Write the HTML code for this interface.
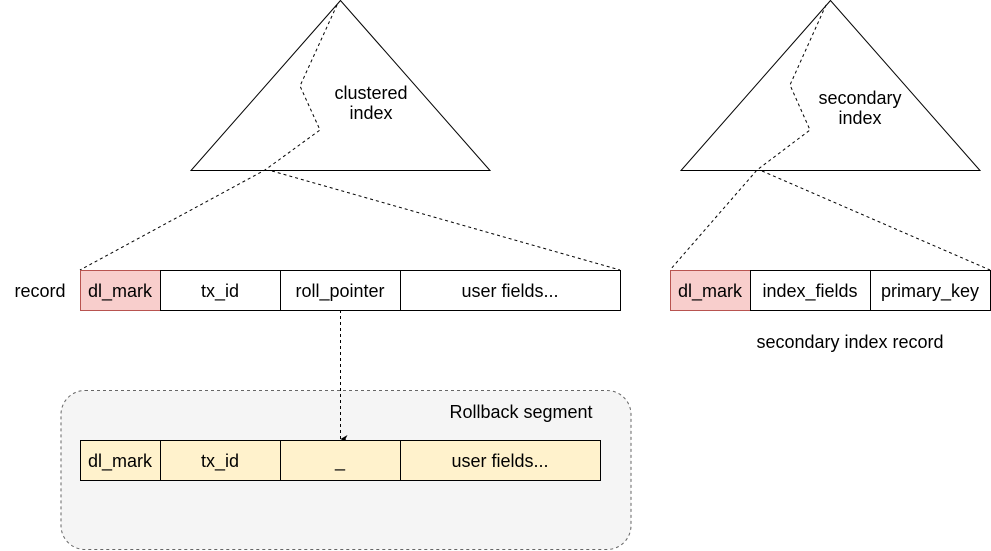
<!DOCTYPE html>
<html><head><meta charset="utf-8"><style>
html,body{margin:0;padding:0;background:#fff;}
svg{display:block;}
text{font-family:"Liberation Sans",Helvetica,Arial,sans-serif;font-size:18px;fill:#000;}
</style></head><body>
<svg width="991" height="551" viewBox="0 0 991 551" xmlns="http://www.w3.org/2000/svg">
<defs><marker id="ah" markerWidth="8" markerHeight="8" refX="4" refY="7" orient="auto" markerUnits="userSpaceOnUse"><path d="M0,0 L4,7 L8,0 L4,2 Z" fill="#000"/></marker></defs>
<rect x="61" y="390.5" width="570" height="159" rx="24" fill="#f5f5f5" stroke="#666" stroke-dasharray="3,3"/>
<text x="521" y="418" text-anchor="middle">Rollback segment</text>
<polygon points="340.5,0.5 191,170.5 490,170.5" fill="#fff" stroke="#000"/>
<polygon points="830.5,0.5 681,170.5 980,170.5" fill="#fff" stroke="#000"/>
<text x="371" y="99" text-anchor="middle">clustered</text>
<text x="371" y="119" text-anchor="middle">index</text>
<text x="860" y="104" text-anchor="middle">secondary</text>
<text x="860" y="124" text-anchor="middle">index</text>
<g fill="none" stroke="#000" stroke-dasharray="3,3" stroke-width="1">
<polyline points="337,5 300,86 320,130 265,170 80,270"/>
<line x1="272" y1="171" x2="620" y2="270"/>
<polyline points="826,5 790,85 810,130 757,170 670,270"/>
<line x1="762" y1="171" x2="990" y2="270"/>
<line x1="340.5" y1="310" x2="340.5" y2="439" marker-end="url(#ah)"/>
</g>
<text x="40" y="297" text-anchor="middle">record</text>
<rect x="80.5" y="270.5" width="80" height="40" fill="#f8cecc" stroke="#b85450"/>
<rect x="160.5" y="270.5" width="120" height="40" fill="#fff" stroke="#000"/>
<rect x="280.5" y="270.5" width="120" height="40" fill="#fff" stroke="#000"/>
<rect x="400.5" y="270.5" width="220" height="40" fill="#fff" stroke="#000"/>
<text x="120" y="297" text-anchor="middle">dl_mark</text>
<text x="220" y="297" text-anchor="middle">tx_id</text>
<text x="340" y="297" text-anchor="middle">roll_pointer</text>
<text x="510" y="297" text-anchor="middle">user fields...</text>
<rect x="670.5" y="270.5" width="80" height="40" fill="#f8cecc" stroke="#b85450"/>
<rect x="750.5" y="270.5" width="120" height="40" fill="#fff" stroke="#000"/>
<rect x="870.5" y="270.5" width="120" height="40" fill="#fff" stroke="#000"/>
<text x="710" y="297" text-anchor="middle">dl_mark</text>
<text x="810" y="297" text-anchor="middle">index_fields</text>
<text x="930" y="297" text-anchor="middle">primary_key</text>
<text x="850" y="348" text-anchor="middle">secondary index record</text>
<g fill="#fff2cc" stroke="#000">
<rect x="80.5" y="440.5" width="80" height="40"/>
<rect x="160.5" y="440.5" width="120" height="40"/>
<rect x="280.5" y="440.5" width="120" height="40"/>
<rect x="400.5" y="440.5" width="200" height="40"/>
</g>
<text x="120" y="467" text-anchor="middle">dl_mark</text>
<text x="220" y="467" text-anchor="middle">tx_id</text>
<text x="340" y="467" text-anchor="middle">_</text>
<text x="500" y="467" text-anchor="middle">user fields...</text>
</svg>
</body></html>
